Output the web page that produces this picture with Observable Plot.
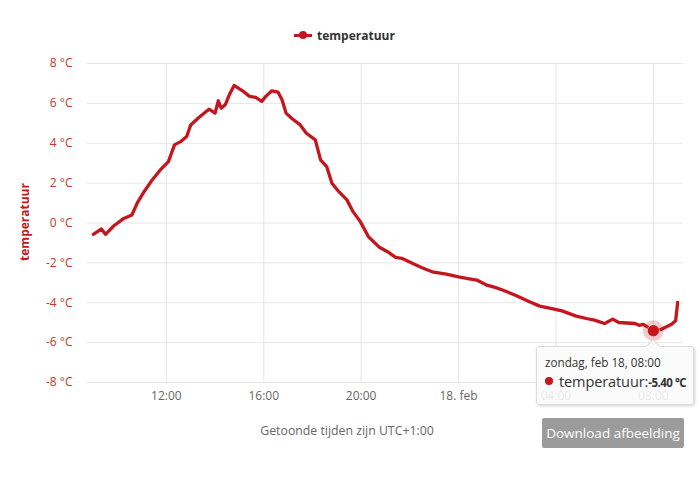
<!DOCTYPE html>
<html>
<head>
<meta charset="utf-8">
<script src="https://cdn.jsdelivr.net/npm/d3@7"></script>
<script src="https://cdn.jsdelivr.net/npm/@observablehq/plot@0.6"></script>
<style>
  html, body { margin: 0; padding: 0; background: #fff; }
  body { font-family: "Open Sans", sans-serif; }
  #wrap { position: relative; width: 700px; height: 479px; overflow: hidden; }
  #chart svg { position: absolute; left: 0; top: 0; }
  .legend { position: absolute; left: 294px; top: 26px; height: 18px; display: flex; align-items: center; font-size: 12px; font-weight: bold; color: #333; }
  .legend .sym { position: relative; width: 18px; height: 18px; margin-right: 5px; }
  .legend .sym::before { content: ""; position: absolute; left: 0; top: 8px; width: 18px; height: 2.5px; background: #c5161d; }
  .legend .sym::after { content: ""; position: absolute; left: 5px; top: 5px; width: 8px; height: 8px; border-radius: 50%; background: #c5161d; }
  .ytitle { position: absolute; left: 24px; top: 222px; transform: translate(-50%, -50%) rotate(-90deg); font-size: 12px; font-weight: bold; color: #c5161d; white-space: nowrap; }
  .caption { position: absolute; left: 0; width: 694px; top: 422px; text-align: center; font-size: 12.3px; color: #666; }
  .tooltip { position: absolute; left: 536px; top: 346px; width: 158px; height: 59px; box-sizing: border-box; background: rgba(250,250,250,0.88); border: 1px solid #ddd; border-radius: 3px; box-shadow: 1px 1px 3px rgba(0,0,0,0.18); padding: 5px 8px; color: #333; }
  .tooltip .arrow { position: absolute; left: 111px; top: -6px; width: 9px; height: 9px; background: rgba(250,250,250,0.95); border-left: 1px solid #ddd; border-top: 1px solid #ddd; transform: rotate(45deg); }
  .tooltip .l1 { font-size: 11.7px; line-height: 16px; margin-top: 2px; }
  .tooltip .l2 { font-size: 14.5px; line-height: 20px; margin-top: 2px; white-space: nowrap; letter-spacing: -0.1px; }
  .tooltip .dot { display: inline-block; width: 8px; height: 8px; border-radius: 50%; background: #c5161d; margin-right: 6px; vertical-align: 2px; }
  .tooltip b { font-size: 11.5px; letter-spacing: -0.5px; }
  .btn { position: absolute; left: 542px; top: 418px; width: 142px; height: 30px; background: #9b9b9b; color: #fff; font-size: 13.5px; line-height: 30px; text-align: center; border-radius: 2px; }
</style>
</head>
<body>
<div id="wrap">
  <div id="chart"></div>
  <div class="legend"><span class="sym"></span>temperatuur</div>
  <div class="ytitle">temperatuur</div>
  <div class="caption">Getoonde tijden zijn UTC+1:00</div>
  <div class="tooltip"><div class="arrow"></div><div class="l1">zondag, feb 18, 08:00</div><div class="l2"><span class="dot"></span>temperatuur:<b>-5.40 °C</b></div></div>
  <div class="btn">Download afbeelding</div>
</div>
<script>
// Measurement times (local time, UTC+1) and temperatures in °C
const times = [
  "2018-02-17T09:00","2018-02-17T09:20","2018-02-17T09:30","2018-02-17T09:50","2018-02-17T10:15",
  "2018-02-17T10:35","2018-02-17T10:48","2018-02-17T11:05","2018-02-17T11:25","2018-02-17T11:45",
  "2018-02-17T12:05","2018-02-17T12:20","2018-02-17T12:35","2018-02-17T12:50","2018-02-17T13:00",
  "2018-02-17T13:20","2018-02-17T13:45","2018-02-17T14:00","2018-02-17T14:08","2018-02-17T14:15",
  "2018-02-17T14:25","2018-02-17T14:35","2018-02-17T14:47","2018-02-17T15:00","2018-02-17T15:10",
  "2018-02-17T15:25","2018-02-17T15:40","2018-02-17T15:55","2018-02-17T16:05","2018-02-17T16:20",
  "2018-02-17T16:35","2018-02-17T16:45","2018-02-17T16:55","2018-02-17T17:10","2018-02-17T17:30",
  "2018-02-17T17:45","2018-02-17T18:07","2018-02-17T18:20","2018-02-17T18:35","2018-02-17T18:48",
  "2018-02-17T19:05","2018-02-17T19:25","2018-02-17T19:40","2018-02-17T19:58","2018-02-17T20:18",
  "2018-02-17T20:45","2018-02-17T21:05","2018-02-17T21:25","2018-02-17T21:40","2018-02-17T22:10",
  "2018-02-17T22:30","2018-02-17T22:55","2018-02-17T23:30","2018-02-18T00:00","2018-02-18T00:20",
  "2018-02-18T00:45","2018-02-18T01:10","2018-02-18T01:30","2018-02-18T01:50","2018-02-18T02:20",
  "2018-02-18T02:55","2018-02-18T03:20","2018-02-18T03:50","2018-02-18T04:15","2018-02-18T04:50",
  "2018-02-18T05:15","2018-02-18T05:35","2018-02-18T06:00","2018-02-18T06:20","2018-02-18T06:35",
  "2018-02-18T07:15","2018-02-18T07:25","2018-02-18T07:35","2018-02-18T08:00","2018-02-18T08:20",
  "2018-02-18T08:45","2018-02-18T08:55","2018-02-18T09:00"
];
const temperatures = [
  -0.57,-0.30,-0.57,-0.15,0.23,
  0.40,1.00,1.57,2.16,2.66,
  3.08,3.92,4.08,4.34,4.92,
  5.29,5.71,5.51,6.13,5.76,
  5.93,6.43,6.90,6.73,6.60,
  6.35,6.30,6.10,6.35,6.63,
  6.57,6.18,5.51,5.23,4.92,
  4.50,4.17,3.17,2.83,1.99,
  1.57,1.16,0.57,0.07,-0.69,
  -1.22,-1.44,-1.72,-1.77,-2.06,
  -2.24,-2.45,-2.56,-2.70,-2.78,
  -2.86,-3.12,-3.23,-3.37,-3.62,
  -3.95,-4.17,-4.29,-4.41,-4.67,
  -4.79,-4.87,-5.04,-4.82,-4.99,
  -5.04,-5.13,-5.08,-5.40,-5.33,
  -5.08,-4.90,-3.98
];
const yTicks = [-8,-6,-4,-2,0,2,4,6,8];
const xTickTimes = ["2018-02-17T12:00","2018-02-17T16:00","2018-02-17T20:00","2018-02-18T00:00","2018-02-18T04:00","2018-02-18T08:00"];
const xTickLabels = ["12:00","16:00","20:00","18. feb","04:00","08:00"];
const hoverTime = "2018-02-18T08:00";
const hoverValue = -5.40;

const parse = s => new Date(s + ":00Z");
const data = times.map((t, i) => ({time: parse(t), temp: temperatures[i]}));
const xTicks = xTickTimes.map(parse);
const labelMap = new Map(xTicks.map((d, i) => [d.getTime(), xTickLabels[i]]));
const t0 = data[0].time.getTime(), t1 = data[data.length - 1].time.getTime();
const pad = (t1 - t0) * 0.01;
const red = "#c5161d";

const chart = Plot.plot({
  width: 700,
  height: 479,
  marginTop: 63,
  marginBottom: 97,
  marginLeft: 87,
  marginRight: 17,
  style: {fontFamily: "Open Sans, sans-serif", fontSize: "12px", background: "transparent", overflow: "visible"},
  x: {type: "utc", domain: [new Date(t0 - pad), new Date(t1 + pad)]},
  y: {domain: [-8, 8]},
  marks: [
    Plot.gridY(yTicks, {stroke: "#e6e6e6", strokeOpacity: 1}),
    Plot.gridX(xTicks, {stroke: "#e6e6e6", strokeOpacity: 1}),
    Plot.axisY(yTicks, {tickSize: 0, tickPadding: 15, fill: "#c0392b", fontSize: 12, label: null, tickFormat: d => `${d} °C`}),
    Plot.axisX(xTicks, {tickSize: 0, tickPadding: 9, fill: "#666", fontSize: 12, label: null, tickFormat: d => labelMap.get(d.getTime())}),
    Plot.line(data, {x: "time", y: "temp", stroke: red, strokeWidth: 3.3, strokeLinejoin: "round"}),
    Plot.dot([{time: parse(hoverTime), temp: hoverValue}], {x: "time", y: "temp", r: 10.5, fill: red, fillOpacity: 0.22}),
    Plot.dot([{time: parse(hoverTime), temp: hoverValue}], {x: "time", y: "temp", r: 6, fill: red, stroke: "#fff", strokeWidth: 0.5})
  ]
});
document.getElementById("chart").appendChild(chart);
</script>
</body>
</html>
